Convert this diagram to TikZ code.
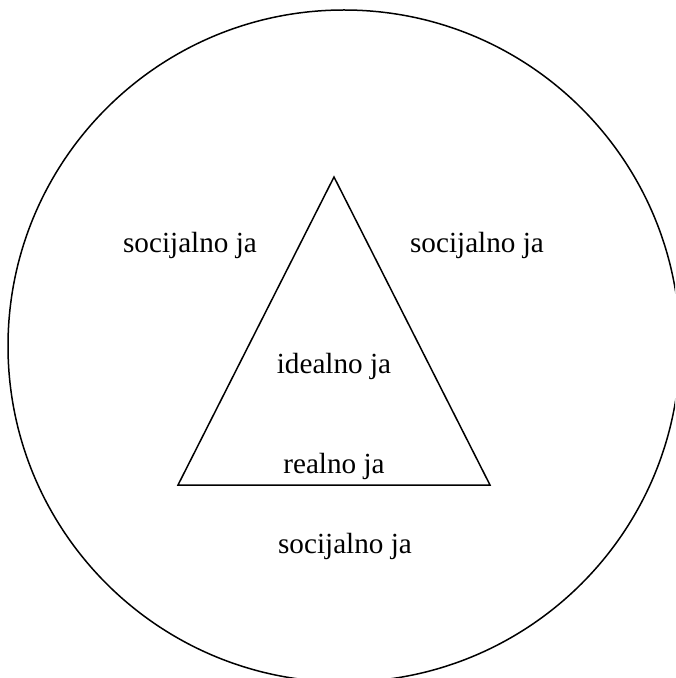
\documentclass[tikz,border=0pt]{standalone}
\usepackage{fontspec}
\setmainfont{Liberation Serif}
\usepackage{tikz}
\usetikzlibrary{positioning,calc}
\definecolor{jaedge}{RGB}{0,0,0}
\tikzset{
  jaline/.style={draw=jaedge, line width=0.75pt, line join=miter},
  jatext/.style={font=\fontsize{14.6}{17.5}\selectfont, inner sep=0pt,
    anchor=base, text=black},
  every picture/.append style={line join=round}
}
\begin{document}
\begin{tikzpicture}[x=0.5pt,y=-0.5pt]
  % page frame, the circle runs off the right and bottom edges
  \useasboundingbox (0,0) rectangle (675,678);
  \clip (0,0) rectangle (675,678);
  \coordinate (mid) at (344,346);
  \draw[jaline] (mid) circle[radius=168pt];
  % triangle
  \coordinate (apex) at (334,177);
  \coordinate (baseL) at (178,485);
  \coordinate (baseR) at (490,485);
  \draw[jaline] (apex) -- (baseL) -- (baseR) -- cycle;
  \node[jatext] (socL) at (190,252) {socijalno ja};
  \node[jatext] (socR) at (477,252) {socijalno ja};
  \node[jatext] (socB) at (345,553) {socijalno ja};
  \node[jatext] (ideal) at (334,373) {idealno ja};
  \node[jatext] (real) at (334,473) {realno ja};
\end{tikzpicture}
\end{document}
